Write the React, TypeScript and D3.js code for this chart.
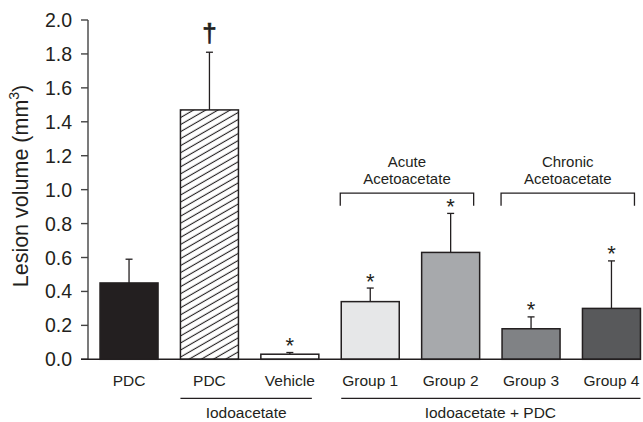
import React from "react";
import * as d3 from "d3";

// Treatment conditions, left to right
const conditionIds = ["pdc", "iodoPdc", "iodoVehicle", "g1", "g2", "g3", "g4"];
const tickLabels = ["PDC", "PDC", "Vehicle", "Group 1", "Group 2", "Group 3", "Group 4"];
// Mean lesion volume (mm³) and upper SEM
const means = [0.45, 1.47, 0.03, 0.34, 0.63, 0.18, 0.3];
const sems = [0.14, 0.34, 0.01, 0.08, 0.23, 0.07, 0.28];
// Significance markers drawn above each error bar
const markers = ["", "\u2020", "*", "*", "*", "*", "*"];

// Treatment groupings shown under the tick labels
const treatmentNames = ["Iodoacetate", "Iodoacetate + PDC"];
const treatmentMembers = [
  ["iodoPdc", "iodoVehicle"],
  ["g1", "g2", "g3", "g4"],
];

// Brackets above the acetoacetate groups
const bracketTitles = [
  ["Acute", "Acetoacetate"],
  ["Chronic", "Acetoacetate"],
];
const bracketMembers = [
  ["g1", "g2"],
  ["g3", "g4"],
];
const bracketLevel = 0.98;
const bracketDrop = 0.075;

const yTicks = [0, 0.2, 0.4, 0.6, 0.8, 1.0, 1.2, 1.4, 1.6, 1.8, 2.0];

// Styling
const fills = ["#231f20", "url(#hatch)", "#ffffff", "#e6e7e8", "#a7a9ac", "#808285", "#58595b"];
const ink = "#231f20";
const font = "'Liberation Sans', Arial, Helvetica, sans-serif";

const W = 643;
const H = 422;

export default function App() {
  const y = d3.scaleLinear().domain([0, 2]).range([359.3, 20]);
  const x = d3
    .scaleBand<string>()
    .domain(conditionIds)
    .range([92, 648.5])
    .paddingInner(0.2786)
    .paddingOuter(0.1);
  const bw = x.bandwidth();
  const fmt = d3.format(".1f");
  const axisX = 88;

  return (
    <svg
      width={W}
      height={H}
      viewBox={`0 0 ${W} ${H}`}
      style={{ position: "absolute", left: 0, top: 0, background: "#fff" }}
      fontFamily={font}
    >
      <defs>
        <pattern
          id="hatch"
          patternUnits="userSpaceOnUse"
          width={12}
          height={6.1}
          patternTransform="rotate(-30)"
        >
          <rect width={12} height={6.1} fill="#fff" />
          <line x1={0} x2={12} y1={3} y2={3} stroke={ink} strokeWidth={1.1} />
        </pattern>
      </defs>

      {/* Y axis */}
      <line x1={axisX} x2={axisX} y1={y(2)} y2={y(0)} stroke="#5a5a5a" strokeWidth={1.6} />
      {yTicks.map((t) => (
        <g key={t}>
          <line x1={axisX - 7} x2={axisX} y1={y(t)} y2={y(t)} stroke="#444" strokeWidth={1.4} />
          <text
            x={72}
            y={y(t)}
            dy="0.36em"
            textAnchor="end"
            fontSize={19.5}
            fill={ink}
          >
            {fmt(t)}
          </text>
        </g>
      ))}
      <text
        transform={`translate(27.5, 186) rotate(-90)`}
        textAnchor="middle"
        fontSize={21.5}
        fill={ink}
      >
        Lesion volume (mm
        <tspan fontSize={14} dy={-8.5}>
          3
        </tspan>
        <tspan dy={8.5}>)</tspan>
      </text>

      {/* Bars, error bars and markers */}
      {conditionIds.map((id, i) => {
        const x0 = x(id)!;
        const cx = x0 + bw / 2;
        const top = y(means[i]);
        const errTop = y(means[i] + sems[i]);
        return (
          <g key={id}>
            <line x1={cx} x2={cx} y1={top} y2={errTop} stroke={ink} strokeWidth={1.3} />
            <line x1={cx - 3.5} x2={cx + 3.5} y1={errTop} y2={errTop} stroke={ink} strokeWidth={1.3} />
            <rect
              x={x0}
              y={top}
              width={bw}
              height={y(0) - top}
              fill={fills[i]}
              stroke={ink}
              strokeWidth={1.5}
            />
            {markers[i] === "*" && (
              <text x={cx} y={errTop + 0.5} textAnchor="middle" fontSize={22} fill={ink}>
                *
              </text>
            )}
            {markers[i] === "\u2020" && (
              <text
                x={cx}
                y={errTop - 10}
                textAnchor="middle"
                fontSize={26}
                fill={ink}
                stroke={ink}
                strokeWidth={0.7}
              >
                {markers[i]}
              </text>
            )}
          </g>
        );
      })}

      {/* Baseline */}
      <line x1={81} x2={641} y1={y(0)} y2={y(0)} stroke={ink} strokeWidth={1.6} />

      {/* Category labels */}
      {conditionIds.map((id, i) => (
        <text
          key={id}
          x={x(id)! + bw / 2}
          y={386}
          textAnchor="middle"
          fontSize={15.5}
          fill={ink}
        >
          {tickLabels[i]}
        </text>
      ))}

      {/* Treatment groupings */}
      {treatmentNames.map((name, k) => {
        const members = treatmentMembers[k];
        const left = x(members[0])!;
        const right = x(members[members.length - 1])! + bw - (k === 0 ? 7 : 0);
        return (
          <g key={name}>
            <line x1={left} x2={right} y1={398.3} y2={398.3} stroke={ink} strokeWidth={1.3} />
            <text
              x={(left + right) / 2 + (k === 0 ? 0 : -0.5)}
              y={418}
              textAnchor="middle"
              fontSize={15.5}
              fill={ink}
            >
              {name}
            </text>
          </g>
        );
      })}

      {/* Acetoacetate brackets */}
      {bracketTitles.map((lines, k) => {
        const members = bracketMembers[k];
        const left = x(members[0])! - 1;
        const right = x(members[members.length - 1])! + bw - 6;
        const yt = y(bracketLevel);
        const yb = y(bracketLevel - bracketDrop);
        const mid = (left + right) / 2;
        return (
          <g key={k}>
            <path
              d={`M${left},${yb}V${yt}H${right}V${yb}`}
              fill="none"
              stroke={ink}
              strokeWidth={1.3}
            />
            {lines.map((ln, j) => (
              <text
                key={j}
                x={mid}
                y={167 + j * 17}
                textAnchor="middle"
                fontSize={15}
                fill={ink}
              >
                {ln}
              </text>
            ))}
          </g>
        );
      })}
    </svg>
  );
}
